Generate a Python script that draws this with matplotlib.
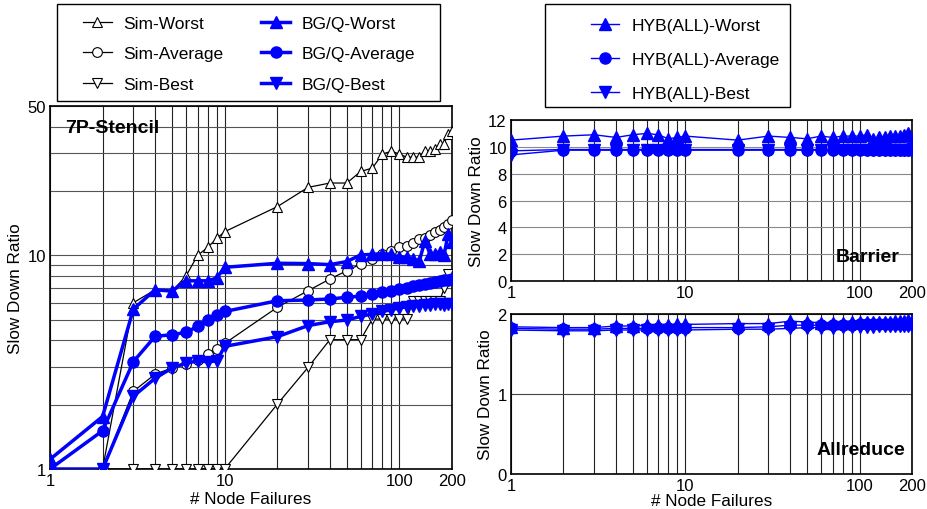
import matplotlib
matplotlib.use('Agg')
import matplotlib.pyplot as plt
import matplotlib.ticker as mticker
from matplotlib.patches import Rectangle
import numpy as np

plt.rcParams['font.family'] = ['Liberation Sans', 'DejaVu Sans']

nan = np.nan
x = [1, 2, 3, 4, 5, 6, 7, 8, 9, 10, 20, 30, 40, 50, 60, 70, 80, 90, 100,
     110, 120, 130, 140, 150, 160, 170, 180, 190, 200]

# 7P-Stencil
sim_worst = [1, 1, 6.0, 6.9, 6.8, 8.0, 10.0, 10.9, 12.0, 12.9, 16.9, 20.8, 21.8, 21.8, 24.7, 25.6, 29.8, 30.7, 29.8,
             28.8, 28.8, 28.8, 30.7, 30.7, 31.5, 33.2, 33.2, 37.0, 38.3]
sim_avg = [1, 1, 2.31, 2.78, 2.97, 3.10, 3.25, 3.45, 3.64, 3.87, 5.71, 6.83, 7.75, 8.47, 9.1, 9.6, 10.1, 10.5, 10.9,
           11.1, 11.4, 11.9, 12.0, 12.4, 12.8, 13.2, 13.6, 14.0, 14.7]
sim_best = [1, 1, 1, 1, 1, 1, 1, 1, 1, 1, 2.01, 2.99, 4.03, 4.03, 4.03, 5.03, 5.03, 5.03, 5.03,
            5.03, 6.1, 6.1, 6.1, 6.1, 6.1, 6.1, 7.0, 8.2, nan]
bgq_worst = [1.11, 1.76, 5.6, 6.9, 6.8, 7.6, 7.6, 7.6, 7.83, 8.79, 9.18, 9.15, 9.05, 9.35, 10.05, 10.1, 10.2, 10.1, 9.8,
             9.8, 9.6, 9.4, 11.7, 10.1, 10.2, 10.4, 10.0, 12.6, 11.5]
bgq_avg = [1.0, 1.51, 3.18, 4.18, 4.25, 4.36, 4.65, 4.98, 5.26, 5.46, 6.13, 6.18, 6.25, 6.36, 6.45, 6.58, 6.73, 6.83, 6.95,
           7.05, 7.15, 7.25, 7.35, 7.42, 7.5, 7.58, 7.65, 7.7, 7.75]
bgq_best = [1.0, 1.0, 2.19, 2.66, 2.97, 3.13, 3.2, 3.18, 3.2, 3.75, 4.16, 4.69, 4.89, 4.98, 5.18, 5.32, 5.46, 5.57, 5.67,
            5.75, 5.8, 5.8, 5.85, 5.85, 5.9, 5.9, 5.85, 5.95, 5.95]

# Barrier
bar_worst = [10.5, 10.8, 10.9, 10.7, 10.9, 11.0, 10.9, 10.6, 10.7, 10.8, 10.5, 10.8, 10.7, 10.6, 10.8, 10.7, 10.8, 10.8, 10.8,
             10.9, 10.6, 10.7, 10.7, 10.8, 10.8, 10.8, 10.9, 11.0, 10.6]
bar_avg = [9.7, 9.8, 9.8, 9.8, 9.8, 9.8, 9.8, 9.8, 9.8, 9.8, 9.8, 9.8, 9.8, 9.8, 9.8, 9.8, 9.8, 9.8, 9.8,
           9.8, 9.8, 9.8, 9.8, 9.8, 9.8, 9.8, 9.8, 9.8, 9.8]
bar_best = [9.4, 9.75, 9.75, 9.75, 9.75, 9.75, 9.75, 9.75, 9.75, 9.75, 9.75, 9.75, 9.75, 9.75, 9.75, 9.75, 9.75, 9.75, 9.75,
            9.75, 9.75, 9.75, 9.75, 9.75, 9.75, 9.75, 9.75, 9.75, 9.75]

# Allreduce
all_worst = [1.84, 1.83, 1.83, 1.85, 1.85, 1.86, 1.86, 1.86, 1.87, 1.87, 1.88, 1.88, 1.91, 1.90, 1.89, 1.89, 1.89, 1.90, 1.90,
             1.90, 1.90, 1.90, 1.90, 1.90, 1.91, 1.91, 1.91, 1.92, 1.91]
all_avg = [1.82, 1.81, 1.81, 1.82, 1.82, 1.82, 1.82, 1.83, 1.83, 1.83, 1.83, 1.84, 1.86, 1.86, 1.86, 1.86, 1.86, 1.86, 1.87,
           1.87, 1.87, 1.87, 1.87, 1.87, 1.87, 1.87, 1.87, 1.88, 1.88]
all_best = [1.80, 1.79, 1.79, 1.80, 1.80, 1.80, 1.80, 1.80, 1.80, 1.80, 1.81, 1.81, 1.82, 1.83, 1.83, 1.83, 1.84, 1.84, 1.84,
            1.84, 1.84, 1.85, 1.85, 1.85, 1.85, 1.85, 1.85, 1.85, 1.85]

blue = '#0000ff'
W, H = 927, 510
fig = plt.figure(figsize=(9.27, 5.10), dpi=100)


def px_box(x0, y0, x1, y1):
    # legend frame given in pixels from the top-left corner
    fig.add_artist(Rectangle((x0 / W, 1 - y1 / H), (x1 - x0) / W, (y1 - y0) / H,
                             transform=fig.transFigure, fill=False, ec='k', lw=1.0))


ax = fig.add_axes([50/W, 40/H, 402/W, 363/H])
ax.plot(x, sim_worst, 'k-', lw=0.9, marker='^', ms=7, mfc='white', mec='k', mew=0.8, label='Sim-Worst', zorder=3)
ax.plot(x, sim_avg, 'k-', lw=0.9, marker='o', ms=7, mfc='white', mec='k', mew=0.8, label='Sim-Average', zorder=3)
ax.plot(x, sim_best, 'k-', lw=0.9, marker='v', ms=7, mfc='white', mec='k', mew=0.8, label='Sim-Best', zorder=3)
ax.plot(x, bgq_worst, '-', color=blue, lw=2.5, marker='^', ms=8, label='BG/Q-Worst', zorder=4)
ax.plot(x, bgq_avg, '-', color=blue, lw=2.5, marker='o', ms=8, label='BG/Q-Average', zorder=4)
ax.plot(x, bgq_best, '-', color=blue, lw=2.5, marker='v', ms=8, label='BG/Q-Best', zorder=4)
ax.set_xscale('log')
ax.set_yscale('log')
ax.set_xlim(1, 200)
ax.set_ylim(1, 50)
ax.xaxis.set_major_locator(mticker.FixedLocator([1, 10, 100, 200]))
ax.xaxis.set_major_formatter(mticker.FixedFormatter(['1', '10', '100', '200']))
ax.yaxis.set_major_locator(mticker.FixedLocator([1, 10, 50]))
ax.yaxis.set_major_formatter(mticker.FixedFormatter(['1', '10', '50']))
ax.xaxis.set_minor_locator(mticker.LogLocator(subs=np.arange(2, 10)))
ax.yaxis.set_minor_locator(mticker.LogLocator(subs=np.arange(2, 10)))
ax.xaxis.set_minor_formatter(mticker.NullFormatter())
ax.yaxis.set_minor_formatter(mticker.NullFormatter())
ax.grid(True, which='both', axis='x', color='#222222', lw=0.8)
ax.grid(True, which='both', axis='y', color='#555555', lw=0.8)
ax.tick_params(which='both', length=0, labelsize=12, pad=3)
ax.set_xlabel('# Node Failures', fontsize=12.3, labelpad=2)
ax.set_ylabel('Slow Down Ratio', fontsize=12.3, labelpad=3)
ax.text(0.037, 0.965, '7P-Stencil', transform=ax.transAxes, fontsize=14, fontweight='bold', va='top')
for s in ax.spines.values():
    s.set_linewidth(1.2)

px_box(57, 5, 440, 102)
fig.legend(*ax.get_legend_handles_labels(), loc='upper left', ncol=2,
           bbox_to_anchor=(83/W, 1 - 17/H), fontsize=12.5, frameon=False,
           labelspacing=0.87, handlelength=1.65, handletextpad=0.65, columnspacing=2.2,
           borderaxespad=0, borderpad=0)


def right_panel(rect, worst, avg, best, ylim, yticks, name, nx, hgrid):
    a = fig.add_axes(rect)
    a.plot(x, worst, '-', color=blue, lw=1, marker='^', ms=8, label='HYB(ALL)-Worst', zorder=3)
    a.plot(x, avg, '-', color=blue, lw=1, marker='o', ms=8, label='HYB(ALL)-Average', zorder=3)
    a.plot(x, best, '-', color=blue, lw=1, marker='v', ms=8, label='HYB(ALL)-Best', zorder=3)
    a.set_xscale('log')
    a.set_xlim(1, 200)
    a.set_ylim(*ylim)
    a.set_yticks(yticks)
    a.xaxis.set_major_locator(mticker.FixedLocator([1, 10, 100, 200]))
    a.xaxis.set_major_formatter(mticker.FixedFormatter(['1', '10', '100', '200']))
    a.xaxis.set_minor_locator(mticker.LogLocator(subs=np.arange(2, 10)))
    a.xaxis.set_minor_formatter(mticker.NullFormatter())
    a.grid(True, which='both', axis='x', color='#222222', lw=0.8)
    a.grid(True, axis='y', color=hgrid, lw=0.8)
    a.tick_params(which='both', length=0, labelsize=12, pad=3)
    a.set_ylabel('Slow Down Ratio', fontsize=12.3, labelpad=3)
    a.text(nx, 0.1, name, transform=a.transAxes, fontsize=14, fontweight='bold', ha='right', va='bottom')
    for s in a.spines.values():
        s.set_linewidth(1.2)
    return a


ax2 = right_panel([511/W, 228/H, 401/W, 161/H], bar_worst, bar_avg, bar_best,
                  (0, 12), [0, 2, 4, 6, 8, 10, 12], 'Barrier', 0.97, '#888888')
ax3 = right_panel([511/W, 35/H, 401/W, 160/H], all_worst, all_avg, all_best,
                  (0, 2), [0, 1, 2], 'Allreduce', 0.983, '#444444')
ax3.set_xlabel('# Node Failures', fontsize=12.3, labelpad=0)

px_box(545, 5, 790, 108)
fig.legend(*ax2.get_legend_handles_labels(), loc='upper left',
           bbox_to_anchor=(591/W, 1 - 19/H), fontsize=12.5, frameon=False,
           labelspacing=1.07, handlelength=1.6, handletextpad=0.75,
           borderaxespad=0, borderpad=0)

fig.savefig('out.png', dpi=100)
